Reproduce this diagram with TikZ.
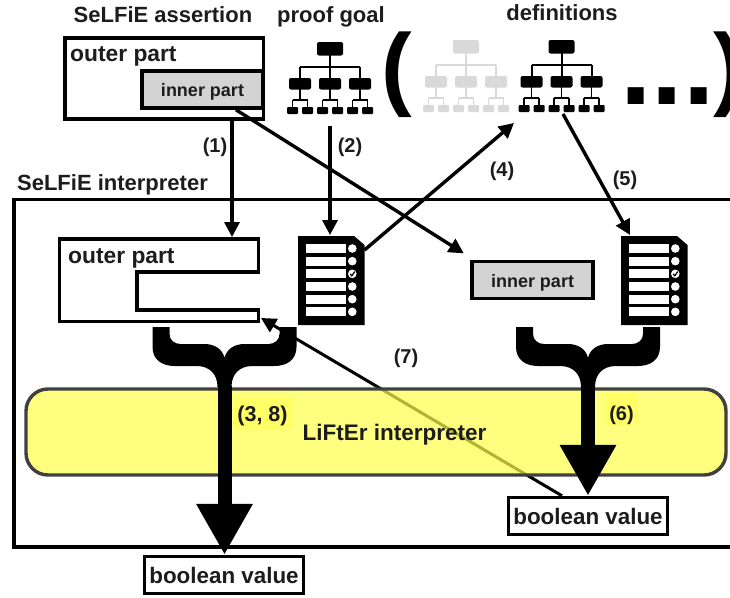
\documentclass[tikz,border=0pt]{standalone}
\usepackage{fontspec}
\setmainfont{Liberation Sans}
\usetikzlibrary{arrows.meta}
\definecolor{boxgray}{HTML}{D3D3D3}
\definecolor{treegray}{HTML}{D9D9D9}
\definecolor{lifteryellow}{HTML}{FFFF49}
\definecolor{marklight}{HTML}{FFFF66}
\definecolor{lifterline}{HTML}{404040}
\definecolor{textdark}{HTML}{1C1C1C}
\begin{document}
\begin{tikzpicture}[x=1pt,y=-1pt,
	>={Triangle[length=15pt,width=15pt]},
	every node/.style={font=\bfseries\fontsize{22}{24}\selectfont,text=textdark,inner sep=0pt},
	basetext/.style={anchor=base},
	parttext/.style={anchor=base west,font=\bfseries\fontsize{22.8}{24}\selectfont},
	numtext/.style={anchor=base,font=\bfseries\fontsize{20}{22}\selectfont},
	partbox/.style={draw,line width=3.6pt,rectangle},
	innerbox/.style={partbox,fill=boxgray,minimum width=121pt,minimum height=37pt,text height=14pt,text depth=0pt,font=\bfseries\fontsize{18}{20}\selectfont},
	boolbox/.style={draw,line width=3.4pt,fill=white,minimum width=159pt,minimum height=37pt,text height=16pt,text depth=0pt,font=\bfseries\fontsize{22.4}{24}\selectfont},
	flow/.style={->,line width=3.4pt},
	bigflow/.style={-{Triangle[length=51pt,width=53pt]},line width=14pt},
	marked/.style={fill=marklight,minimum height=33pt,text depth=0pt},
	pics/orgtree/.style={code={
		\fill[#1,rounded corners=2pt] (-13,0) rectangle (13,13.5);
		\draw[#1,line width=2pt] (0,13) -- (0,36);
		\draw[#1,line width=2pt] (-30,25) -- (30,25);
		\foreach \dx in {-30,0,30} {
			\draw[#1,line width=2pt] (\dx,25) -- (\dx,36);
			\fill[#1,rounded corners=2pt] (\dx-11,36) rectangle (\dx+11,47.5);
			\draw[#1,line width=1.8pt] (\dx,47) -- (\dx,58);
			\draw[#1,line width=1.8pt] (\dx-7.5,58) -- (\dx+7.5,58);
			\foreach \sx in {-7.5,7.5} {
				\draw[#1,line width=1.8pt] (\dx+\sx,58) -- (\dx+\sx,66);
				\fill[#1,rounded corners=1pt] (\dx+\sx-5.5,65) rectangle (\dx+\sx+5.5,72);
			}
		}
		\coordinate (-bottom) at (0,84);
		\coordinate (-in) at (-47.5,83);
		\coordinate (-out) at (1.5,74);
	}},
	pics/docicon/.style={code={
		\fill (0,0) -- (56,0) -- (66.5,9) -- (66.5,89) -- (0,89) -- cycle;
		\foreach \row in {0,...,5} {
			\fill[white] (8,8+12.67*\row) rectangle (48,17+12.67*\row);
			\fill[white] (54.3,12.5+12.67*\row) circle[radius=4.3];
		}
		\draw[line width=1.2pt,line cap=round] (52.2,38) -- (53.8,39.8) -- (56.6,35.8);
		\coordinate (-top) at (32,-1);
		\coordinate (-corner) at (9,-1);
		\coordinate (-right) at (66.5,14);
	}},
	pics/forkbrace/.style={code={
		\fill (-72,0) -- (-72,20) .. controls (-72,33) and (-62,39) .. (-50,39) -- (-28,39)
			.. controls (-15,39) and (-7,47) .. (-7,60) -- (7,60)
			.. controls (7,47) and (15,39) .. (28,39) -- (50,39)
			.. controls (62,39) and (72,33) .. (72,20) -- (72,0) -- (55,0) -- (55,7)
			.. controls (55,13) and (50,17) .. (44,17) -- (20,17)
			.. controls (10,17) and (2,22) .. (0,31)
			.. controls (-2,22) and (-10,17) .. (-20,17) -- (-44,17)
			.. controls (-50,17) and (-55,13) .. (-55,7) -- (-55,0) -- cycle;
		\coordinate (-stem) at (0,59);
	}}]
	
	\useasboundingbox (0,0) rectangle (730,597);
	
	\node[basetext] (assertion) at (163,22.7) {SeLFiE assertion};
	\node[basetext] (goal) at (331,22) {proof goal};
	\node[basetext] (defs) at (562,20.7) {definitions};
	\node[basetext] (interp) at (112.5,190) {SeLFiE interpreter};
	
	\node[partbox,minimum width=198.5pt,minimum height=81pt] (outerA) at (164.25,78.5) {};
	\node[parttext] (outerAtext) at (70,61) {outer part};
	\node[innerbox] (innerA) at (202.5,89.5) {inner part};
	
	\pic (treeA) at (330,42) {orgtree=black};
	\pic (treeB) at (466,40) {orgtree=treegray};
	\pic (treeC) at (561.5,40) {orgtree=black};
	
	\node[font=\bfseries\fontsize{92}{92}\selectfont,text=black] (parenL) at (397,75) {(};
	\node[font=\bfseries\fontsize{92}{92}\selectfont,text=black] (parenR) at (729,75) {)};
	\node[font=\bfseries\fontsize{113}{113}\selectfont,text=black] (dots) at (667.5,96) {...};
	
	\draw[line width=3.4pt] (14,199.5) rectangle (740,547);
	
	\coordinate (outerBtop) at (232,237);
	\coordinate (outerBend) at (261,318);
	\draw[line width=3.6pt] (59.5,239) -- (258.5,239) -- (258.5,272) -- (137,272) -- (137,310)
		-- (258.5,310) -- (258.5,321.5) -- (59.5,321.5) -- cycle;
	\node[parttext] (outerBtext) at (68,263) {outer part};
	\node[innerbox] (innerB) at (532.5,280) {inner part};
	\pic (docA) at (298,236) {docicon};
	\pic (docB) at (621,236) {docicon};
	
	\node[boolbox] (boolA) at (224,575) {boolean value};
	\node[boolbox] (boolB) at (588,516) {boolean value};
	
	\draw[flow] ([xshift=67.75pt]outerA.south) -- (outerBtop);
	\draw[flow] (treeA-bottom) -- (docA-top);
	\draw[flow] ([xshift=33.5pt]innerA.south) -- ([xshift=-6.35pt,yshift=6.35pt]innerB.north west);
	\draw[flow] (docA-right) -- (treeC-in);
	\draw[flow] (treeC-out) -- (docB-corner);
	\node[numtext] (one) at (215,152) {(1)};
	\node[numtext] (two) at (350,152) {(2)};
	\node[numtext] (four) at (502,176.7) {(4)};
	\node[numtext] (five) at (625,185) {(5)};
	\node[numtext] (seven) at (406,363) {(7)};
	\draw[->,line width=3pt] ([xshift=-26pt]boolB.north) -- (outerBend);
	
	\node[draw=lifterline,line width=3.4pt,rounded corners=22pt,fill=lifteryellow,fill opacity=.7,draw opacity=1,
		minimum width=700pt,minimum height=86pt] (lifter) at (376,432) {};
	\node[basetext,font=\bfseries\fontsize{22.5}{24}\selectfont] (liftertext) at (394.5,440) {LiFtEr interpreter};
	
	\pic (forkA) at (224.5,327) {forkbrace};
	\pic (forkB) at (588,327) {forkbrace};
	\draw[bigflow] (forkA-stem) -- (boolA.north -| forkA-stem);
	\draw[bigflow] (forkB-stem) -- (boolB.north -| forkB-stem);
	
	\node[marked,minimum width=60pt,text height=16.5pt,font=\bfseries\fontsize{21.5}{22}\selectfont] (threeeight) at (262.5,413.5) {(3, 8)};
	\node[marked,minimum width=33pt,text height=21pt,font=\bfseries\fontsize{20}{22}\selectfont] (six) at (621.5,409.5) {(6)};
\end{tikzpicture}
\end{document}
